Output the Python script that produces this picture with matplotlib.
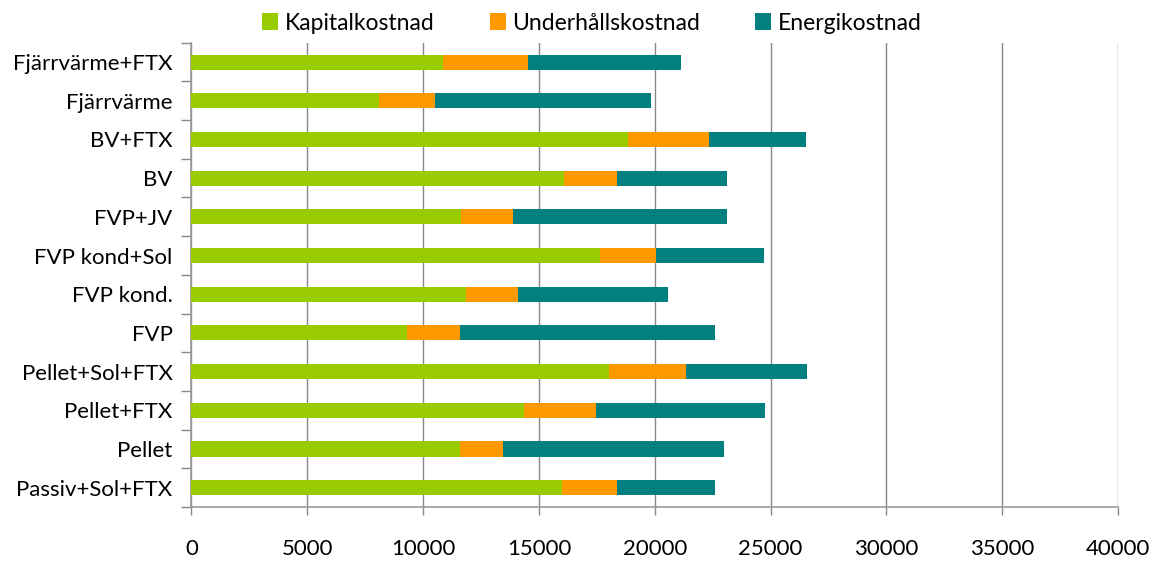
import matplotlib
matplotlib.use("Agg")
import matplotlib.pyplot as plt
import numpy as np
from matplotlib.patches import Patch

categories = ["Fjärrvärme+FTX", "Fjärrvärme", "BV+FTX", "BV", "FVP+JV", "FVP kond+Sol",
              "FVP kond.", "FVP", "Pellet+Sol+FTX", "Pellet+FTX", "Pellet", "Passiv+Sol+FTX"]
kapital = [10870, 8100, 18830, 16070, 11640, 17620, 11850, 9300, 18030, 14340, 11590, 15990]
underhall = [3660, 2410, 3510, 2300, 2250, 2420, 2250, 2290, 3320, 3120, 1860, 2390]
energi = [6610, 9310, 4190, 4750, 9240, 4680, 6480, 11010, 5230, 7300, 9540, 4230]
series_names = ["Kapitalkostnad", "Underhållskostnad", "Energikostnad"]
colors = ["#99CC00", "#FF9900", "#008080"]
xticks = [0, 5000, 10000, 15000, 20000, 25000, 30000, 35000, 40000]

plt.rcParams['font.family'] = ['Lato', 'DejaVu Sans']

fig = plt.figure(figsize=(11.54, 5.62), dpi=100)
ax = fig.add_axes([191.5/1154, 1 - 507/562, (1118 - 191.5)/1154, (507 - 42.7)/562])

n = len(categories)
y = np.arange(n)
h = 0.39
k = np.array(kapital); u = np.array(underhall); e = np.array(energi)
ax.barh(y, k, height=h, color=colors[0], zorder=3)
ax.barh(y, u, left=k, height=h, color=colors[1], zorder=3)
ax.barh(y, e, left=k + u, height=h, color=colors[2], zorder=3)

ax.set_ylim(n - 0.5, -0.5)
ax.set_xlim(0, 40000)
ax.set_xticks(xticks)
ax.set_xticklabels([str(t) for t in xticks], fontsize=16)
ax.set_yticks(y)
ax.set_yticklabels(categories, fontsize=16)
ax.set_yticks(np.arange(-0.5, n, 1), minor=True)
ax.tick_params(axis='y', which='major', length=0, pad=13.5)
ax.tick_params(axis='y', which='minor', length=7, color='#888888', width=1)
ax.tick_params(axis='x', which='major', length=6, color='#888888', width=1, pad=17)
ax.grid(axis='x', color='#888888', linewidth=1, zorder=0)
for s in ['top', 'right']:
    ax.spines[s].set_visible(False)
for s in ['left', 'bottom']:
    ax.spines[s].set_color('#999999')
    ax.spines[s].set_linewidth(1.2)

handles = [Patch(facecolor=c, edgecolor='none') for c in colors]
fig.legend(handles, series_names, loc='center', bbox_to_anchor=(592/1154, 1 - 23/562),
           ncol=3, frameon=False, fontsize=16.5, handlelength=0.7, handleheight=0.7,
           handletextpad=0.3, columnspacing=2.4)

fig.savefig("out.png", dpi=100)
